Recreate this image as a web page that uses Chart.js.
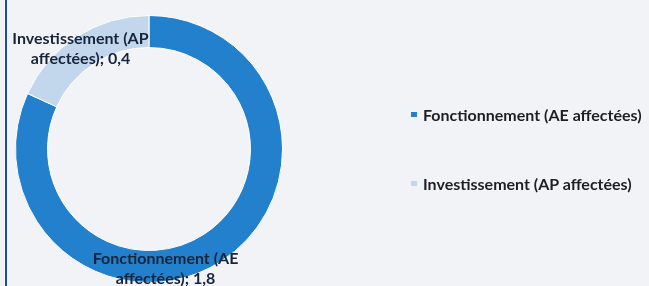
<!DOCTYPE html>
<html>
<head>
<meta charset="utf-8">
<script src="https://cdn.jsdelivr.net/npm/chart.js@4"></script>
<style>
  html, body { margin: 0; padding: 0; background: #f2f3f7; }
  #wrap { position: relative; width: 649px; height: 286px; overflow: hidden; }
  #frame { position: absolute; left: 5px; top: 0; width: 2px; height: 286px; background: #1d4f9e; }
  canvas { position: absolute; left: 0; top: 0; }
  #legend { position: absolute; left: 411px; top: 0; font-family: Lato, sans-serif; font-weight: bold; font-size: 16px; color: #1e1e24; }
  .item { position: absolute; left: 0; white-space: nowrap; display: flex; align-items: center; height: 16px; }
  .swatch { width: 6px; height: 5px; margin-right: 6px; }
</style>
</head>
<body>
<div id="wrap">
  <div id="frame"></div>
  <canvas id="chart" width="649" height="286"></canvas>
  <div id="legend"></div>
</div>
<script>
// data
const categories = ['Fonctionnement (AE affectées)', 'Investissement (AP affectées)'];
const values = [1.8, 0.4];
const labelLines = [['Fonctionnement (AE', 'affectées); '], ['Investissement (AP', 'affectées); ']];
const colors = ['#2380cc', '#c2d7ec'];

// where Excel put each data label, relative to the middle of its slice
const labelShift = [[-47, 21], [-5, -1]];

const sliceLabels = {
  id: 'sliceLabels',
  afterDatasetsDraw(chart) {
    const ctx = chart.ctx;
    const meta = chart.getDatasetMeta(0);
    ctx.save();
    ctx.font = 'bold 16px Lato, sans-serif';
    ctx.fillStyle = '#17243a';
    ctx.textAlign = 'center';
    ctx.textBaseline = 'middle';
    meta.data.forEach((arc, i) => {
      const p = arc.tooltipPosition();
      const x = p.x + labelShift[i][0];
      const y = p.y + labelShift[i][1];
      const lines = labelLines[i].slice();
      lines[1] += values[i].toLocaleString('fr-FR', { minimumFractionDigits: 1 });
      ctx.fillText(lines[0], x, y - 10);
      ctx.fillText(lines[1], x, y + 10);
    });
    ctx.restore();
  }
};

const chart = new Chart(document.getElementById('chart').getContext('2d'), {
  type: 'doughnut',
  data: {
    labels: categories,
    datasets: [{
      data: values,
      backgroundColor: colors,
      borderColor: '#ffffff',
      borderWidth: 1
    }]
  },
  options: {
    responsive: false,
    animation: false,
    cutout: '76%',
    layout: { padding: { left: 15, top: 14, bottom: 2, right: 366 } },
    plugins: {
      legend: { display: false },
      tooltip: { enabled: false }
    }
  },
  plugins: [sliceLabels]
});

// legend on the right, built from the chart's own labels and colours
const legend = document.getElementById('legend');
const legendTops = [106, 175];
chart.data.labels.forEach((name, i) => {
  const item = document.createElement('div');
  item.className = 'item';
  item.style.top = legendTops[i] + 'px';
  item.innerHTML = '<span class="swatch" style="background:' + chart.data.datasets[0].backgroundColor[i] + '"></span>' + name;
  legend.appendChild(item);
});
</script>
</body>
</html>
